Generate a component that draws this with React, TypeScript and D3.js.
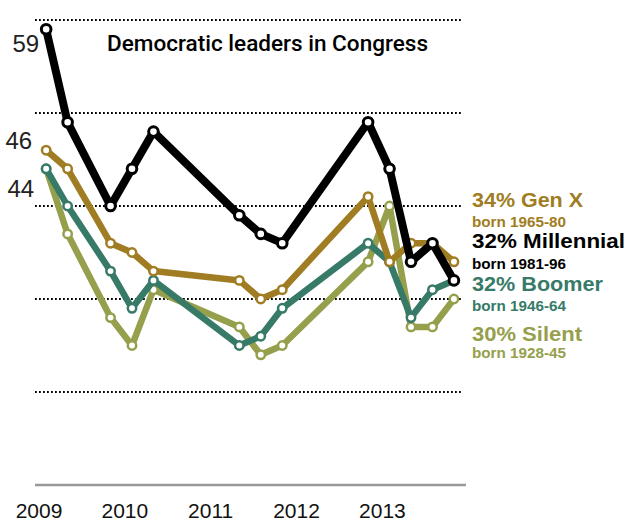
import React from "react";
import * as d3 from "d3";

const dates = [
  [2009, 2], [2009, 5], [2009, 11], [2010, 2], [2010, 5], [2011, 5], [2011, 8],
  [2011, 11], [2012, 11], [2013, 2], [2013, 5], [2013, 8], [2013, 11],
];
const millennial = [59, 49, 40, 44, 48, 39, 37, 36, 49, 44, 34, 36, 32];
const genX = [46, 44, 36, 35, 33, 32, 30, 31, 41, 34, 36, 36, 34];
const boomer = [44, 40, 33, 29, 32, 25, 26, 29, 36, 34, 28, 31, 32];
const silent = [44, 37, 28, 25, 31, 27, 24, 25, 34, 40, 27, 27, 30];
const yearTicks = [2009, 2010, 2011, 2012, 2013];
const gridValues = [60, 50, 40, 30, 20];
const title = "Democratic leaders in Congress";

const series = [
  { name: "Silent", values: silent, color: "#96a04c", width: 6.5, r: 4.2, sw: 2.5, label: "30% Silent", born: "born 1928-45", lw: 110 },
  { name: "Boomer", values: boomer, color: "#377a68", width: 6.5, r: 4.2, sw: 2.5, label: "32% Boomer", born: "born 1946-64", lw: 131 },
  { name: "Gen X", values: genX, color: "#a07d22", width: 6.5, r: 4.2, sw: 2.5, label: "34% Gen X", born: "born 1965-80", lw: 111 },
  { name: "Millennial", values: millennial, color: "#000000", width: 8, r: 4.8, sw: 3, label: "32% Millennial", born: "born 1981-96", lw: 153 },
];

const legendLayout: Record<string, [number, number]> = {
  "Gen X": [207, 226.5],
  Millennial: [248, 269],
  Boomer: [291, 311],
  Silent: [341, 358],
};

const toYear = (d: number[]) => d[0] + (d[1] - 1) / 12;

export default function App() {
  const x = d3.scaleLinear().domain([2009, 2014]).range([39, 39 + 5 * 85.85]);
  const y = d3.scaleLinear().domain([10, 60]).range([485, 20]);
  const line = d3
    .line<number>()
    .x((_, i) => x(toYear(dates[i])))
    .y((v) => y(v));

  const font = "'Liberation Sans', Arial, sans-serif";
  const x0 = x(toYear(dates[0]));

  return (
    <svg
      width={634}
      height={521}
      style={{ position: "absolute", left: 0, top: 0, background: "#fff" }}
    >
      <defs>
        <clipPath id="clip">
          <rect x={0} y={0} width={624} height={521} />
        </clipPath>
      </defs>
      <g clipPath="url(#clip)">
        {gridValues.map((g) => (
          <line
            key={g}
            x1={35}
            x2={462}
            y1={y(g)}
            y2={y(g)}
            stroke="#000"
            strokeWidth={1.8}
            strokeDasharray="1.8,2.2"
          />
        ))}
        <line x1={35} x2={466} y1={y(10)} y2={y(10)} stroke="#999" strokeWidth={2.5} />
        {yearTicks.map((t) => (
          <text
            key={t}
            x={x(t)}
            y={518}
            textAnchor="middle"
            fontFamily={font}
            fontSize={21}
            fill="#111"
          >
            {t}
          </text>
        ))}
        <text x={107} y={51} fontFamily="Roboto, 'Liberation Sans', sans-serif" fontWeight={500} fontSize={21.5} textLength={321} lengthAdjust="spacingAndGlyphs" fill="#000">
          {title}
        </text>
        <text x={x0 - 7} y={y(millennial[0]) + 23} textAnchor="end" fontFamily={font} fontSize={24} fill="#222">
          {millennial[0]}
        </text>
        <text x={x0 - 14} y={y(genX[0]) - 1} textAnchor="end" fontFamily={font} fontSize={24} fill="#222">
          {genX[0]}
        </text>
        <text x={x0 - 12} y={y(boomer[0]) + 28} textAnchor="end" fontFamily={font} fontSize={24} fill="#222">
          {boomer[0]}
        </text>
        {series.map((s) => (
          <g key={s.name}>
            <path
              d={line(s.values) || ""}
              fill="none"
              stroke={s.color}
              strokeWidth={s.width}
              strokeLinejoin="round"
              strokeLinecap="round"
            />
            {s.values.map((v, i) => (
              <circle
                key={i}
                cx={x(toYear(dates[i]))}
                cy={y(v)}
                r={s.r}
                fill="#fff"
                stroke={s.color}
                strokeWidth={s.sw}
              />
            ))}
          </g>
        ))}
        {series.map((s) => {
          const [b1, b2] = legendLayout[s.name];
          return (
            <g key={"lg" + s.name}>
              <text x={472} y={b1} fontFamily={font} fontWeight="bold" fontSize={21} textLength={s.lw} lengthAdjust="spacingAndGlyphs" fill={s.color}>
                {s.label}
              </text>
              <text x={472} y={b2} fontFamily={font} fontWeight="bold" fontSize={15} textLength={94} lengthAdjust="spacingAndGlyphs" fill={s.color}>
                {s.born}
              </text>
            </g>
          );
        })}
      </g>
    </svg>
  );
}
